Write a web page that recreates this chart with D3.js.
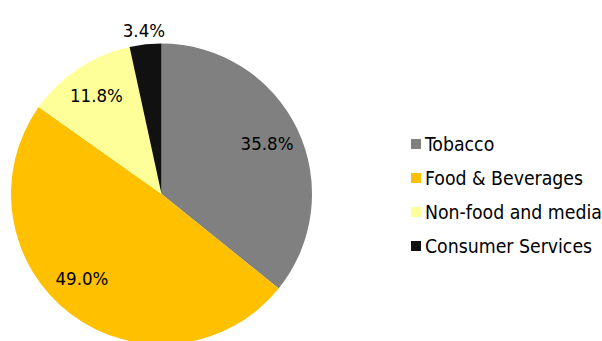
<!DOCTYPE html>
<html>
<head>
<meta charset="utf-8">
<script src="https://cdn.jsdelivr.net/npm/d3@7"></script>
<style>
  html, body { margin: 0; padding: 0; background: #ffffff; }
  svg { display: block; }
  text { font-family: "DejaVu Sans Condensed", "DejaVu Sans", sans-serif; fill: #000; }
</style>
</head>
<body>
<div id="chart"></div>
<script>
// ---- data ----
const categories = ["Tobacco", "Food & Beverages", "Non-food and media", "Consumer Services"];
const values = [35.8, 49.0, 11.8, 3.4];
const labels = ["35.8%", "49.0%", "11.8%", "3.4%"];
const colors = ["#808080", "#FFC000", "#FFFF99", "#111111"];

// ---- layout ----
const W = 602, H = 341;
const cx = 161.5, cy = 194, R = 150.5;
const labelR = [117, 117, 118, 165];
const labelNudge = [[0, 0], [-9, -9], [0, 0], [0, 0]];

const svg = d3.select("#chart").append("svg")
  .attr("width", W).attr("height", H);

const data = categories.map((c, i) => ({ name: c, value: values[i], label: labels[i], color: colors[i], i }));

const pie = d3.pie().sort(null).value(d => d.value);
const arcs = pie(data);
const arc = d3.arc().innerRadius(0).outerRadius(R);

const g = svg.append("g").attr("transform", `translate(${cx},${cy})`);

g.selectAll("path.slice").data(arcs).enter().append("path")
  .attr("class", "slice")
  .attr("d", arc)
  .attr("fill", d => d.data.color);

g.selectAll("text.lbl").data(arcs).enter().append("text")
  .attr("class", "lbl")
  .attr("transform", d => {
    const lr = labelR[d.data.i];
    const c = d3.arc().innerRadius(lr).outerRadius(lr).centroid(d);
    const n = labelNudge[d.data.i];
    return `translate(${c[0] + n[0]},${c[1] + n[1]})`;
  })
  .attr("text-anchor", "middle")
  .attr("dy", "0.36em")
  .style("font-size", "18.5px")
  .text(d => d.data.label);

// ---- legend ----
const legend = svg.append("g").attr("transform", "translate(411,139)");
const rowH = 34;
const items = legend.selectAll("g.item").data(data).enter().append("g")
  .attr("class", "item")
  .attr("transform", (d, i) => `translate(0,${i * rowH})`);
items.append("rect")
  .attr("x", 0).attr("y", 0).attr("width", 10).attr("height", 10)
  .attr("fill", d => d.color);
items.append("text")
  .attr("x", 14).attr("y", 11.5)
  .style("font-size", "19.3px")
  .text(d => d.name);
</script>
</body>
</html>
